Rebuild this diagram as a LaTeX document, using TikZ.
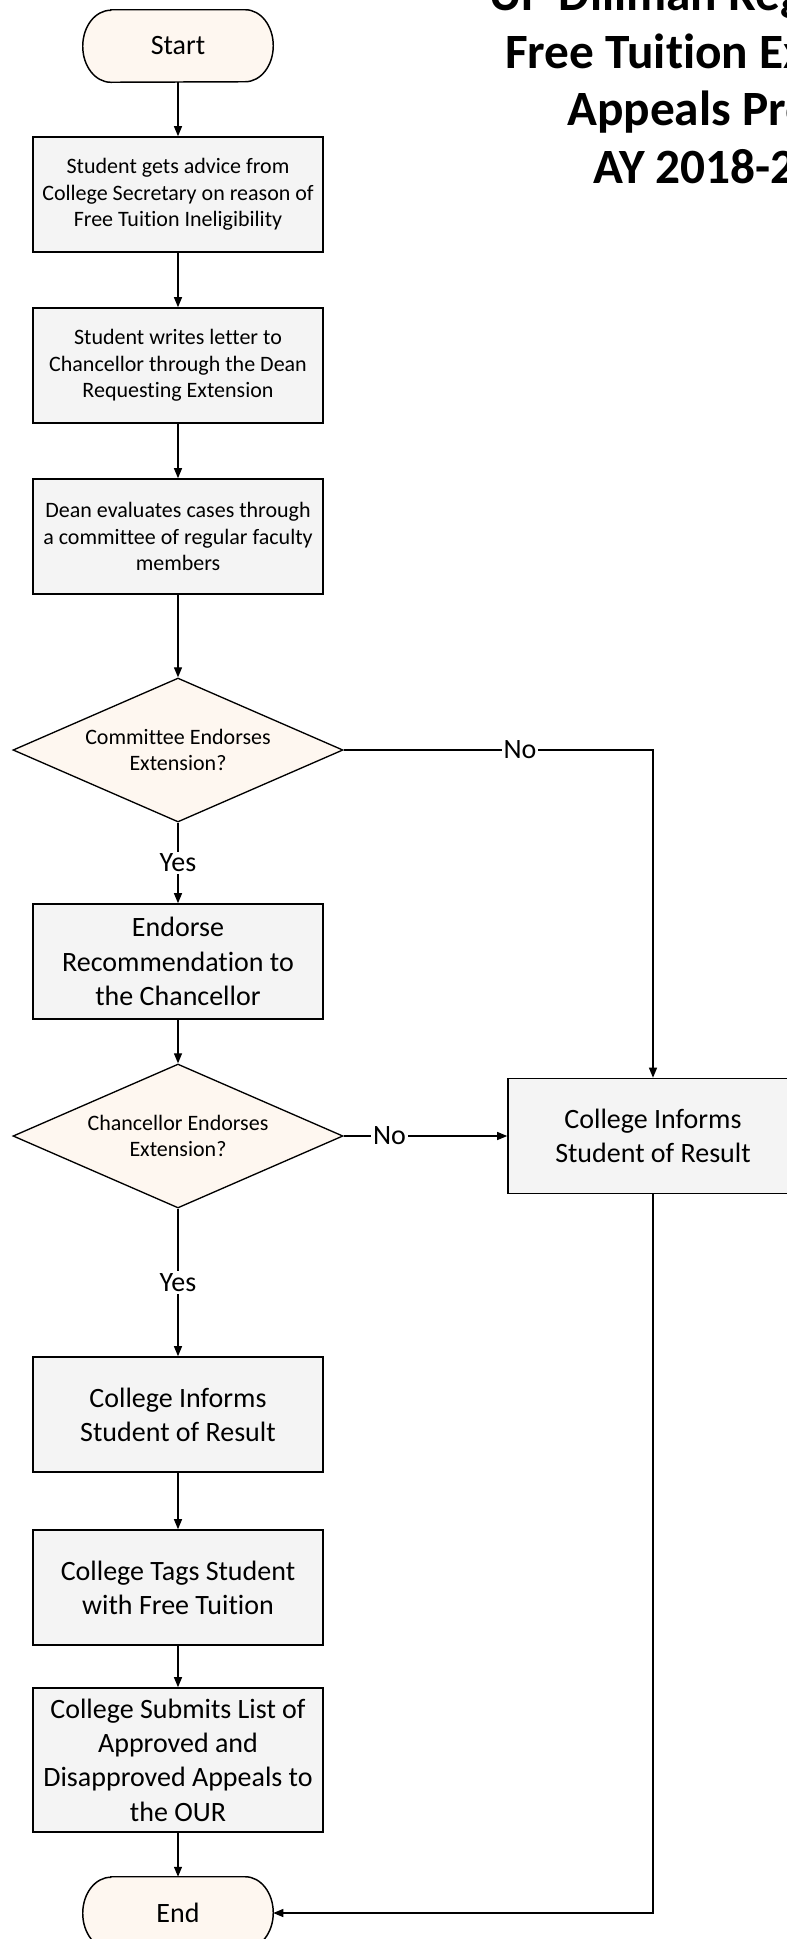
\documentclass[tikz,border=0pt]{standalone}
\usepackage{fontspec}
\setmainfont{Carlito}[Ligatures=NoCommon]
\usetikzlibrary{shapes.geometric,arrows.meta,backgrounds}
\definecolor{boxfill}{HTML}{F4F4F4}
\definecolor{cream}{HTML}{FEF7F0}
\tikzset{
  smallfont/.style={font=\fontsize{16.5}{20}\selectfont},
  bigfont/.style={font=\fontsize{21}{25.7}\selectfont},
  procbox/.style={draw, line width=1.2pt, fill=boxfill, minimum width=217.5pt, minimum height=86.25pt, inner sep=2pt, align=center},
  decision/.style={diamond, draw, line width=1pt, fill=cream, minimum width=247.5pt, minimum height=108pt, inner sep=0pt, shape aspect=2.29, align=center, smallfont},
  term/.style={minimum width=142.5pt, minimum height=54pt, inner sep=0pt, bigfont},
  termline/.style={draw, line width=1.1pt, fill=cream},
  conn/.style={line width=0.9pt, -{Triangle[length=7.5pt,width=6pt]}},
  lbl/.style={fill=white, inner sep=1.5pt, bigfont},
  titlefont/.style={font=\fontsize{37}{43}\selectfont\bfseries, anchor=base},
}
\begin{document}
\begin{tikzpicture}[x=0.75pt,y=-0.75pt]
\useasboundingbox (0,0) rectangle (787,1939);
\clip (0,0) rectangle (787,1939);

% title
\node[titlefont] (t1) at (732,10.5) {UP Diliman Registration};
\node[titlefont] (t2) at (732,68) {Free Tuition Extension};
\node[titlefont] (t3) at (732,125.5) {Appeals Process};
\node[titlefont] (t4) at (732,183) {AY 2018-2019};

% nodes
\node[term] (start) at (178,46) {Start};
\node[procbox, smallfont] (b1) at (178,194.5) {Student gets advice from\\College Secretary on reason of\\Free Tuition Ineligibility};
\node[procbox, smallfont] (b2) at (178,365.5) {Student writes letter to\\Chancellor through the Dean\\Requesting Extension};
\node[procbox, smallfont] (b3) at (178,536.5) {Dean evaluates cases through\\a committee of regular faculty\\members};
\node[decision] (d1) at (178,750) {Committee Endorses\\Extension?};
\node[procbox, bigfont] (b4) at (178,961.5) {Endorse\\Recommendation to\\the Chancellor};
\node[decision] (d2) at (178,1136) {Chancellor Endorses\\Extension?};
\node[procbox, bigfont] (r) at (653,1136) {College Informs\\Student of Result};
\node[procbox, bigfont] (b5) at (178,1414.5) {College Informs\\Student of Result};
\node[procbox, bigfont] (b6) at (178,1587.5) {College Tags Student\\with Free Tuition};
\node[procbox, bigfont, minimum height=108pt] (b7) at (178,1760) {College Submits List of\\Approved and\\Disapproved Appeals to\\the OUR};
\node[term] (end) at (178,1913) {End};

% terminal outlines
\begin{scope}[on background layer]
\foreach \t in {start,end}{
  \draw[termline] ([xshift=21pt]\t.north west) -- ([xshift=-21pt]\t.north east)
    arc[start angle=90, end angle=-90, x radius=21pt, y radius=27pt]
    -- ([xshift=21pt]\t.south west)
    arc[start angle=270, end angle=90, x radius=21pt, y radius=27pt] -- cycle;
}
\end{scope}

% connectors
\draw[conn] (start) -- (b1);
\draw[conn] (b1) -- (b2);
\draw[conn] (b2) -- (b3);
\draw[conn] (b3) -- (d1);
\draw[conn] (d1) -- node[lbl]{Yes} (b4);
\draw[conn] (b4) -- (d2);
\draw[conn] (d2) -- node[lbl]{Yes} (b5);
\draw[conn] (b5) -- (b6);
\draw[conn] (b6) -- (b7);
\draw[conn] (b7) -- (end);
\draw[conn] (d1.east) -- node[lbl,pos=0.57]{No} (d1.east -| r.north) -- (r.north);
\draw[conn] (d2.east) -- node[lbl,pos=0.28]{No} (r.west);
\draw[conn] (r.south) |- (end.east);
\end{tikzpicture}
\end{document}
